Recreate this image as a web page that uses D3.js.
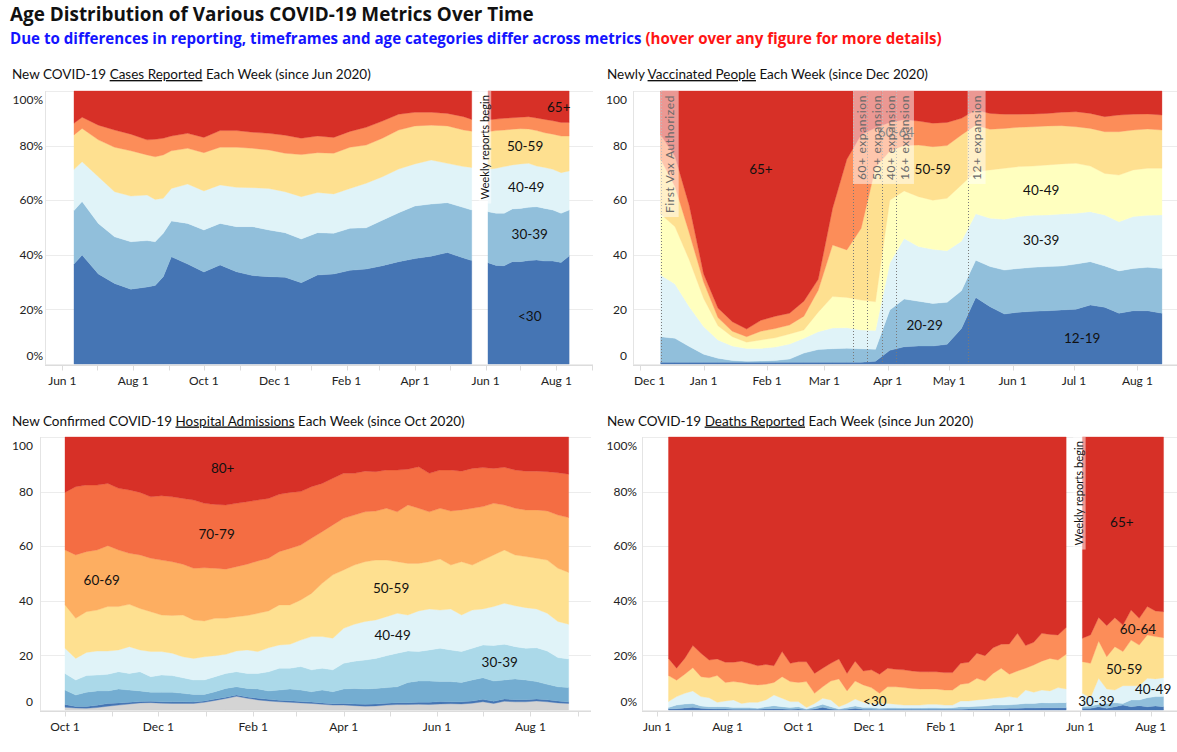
<!DOCTYPE html>
<html><head><meta charset="utf-8">
<script src="https://cdn.jsdelivr.net/npm/d3@7"></script>
<style>
html,body{margin:0;padding:0;background:#fff;}
svg{display:block;font-family:Lato,"Open Sans",sans-serif;}
</style></head><body>
<svg id="chart" width="1177" height="752"></svg>
<script>
// ---------------- DATA ----------------
const yTicks = [0, 20, 40, 60, 80, 100];

// Cases (share of weekly cases, %)
const casesKeys = ["<30","30-39","40-49","50-59","60-64","65+"];
const casesColors = ["#4575b4","#91bfdb","#e0f3f8","#fee090","#fc8d59","#d73027"];
const casesDatesA = ["2020-06-11","2020-06-18","2020-07-02","2020-07-16","2020-07-30","2020-08-13","2020-08-20","2020-08-27","2020-09-03","2020-09-17","2020-10-01","2020-10-15","2020-10-29","2020-11-12","2020-11-26","2020-12-10","2020-12-24","2021-01-07","2021-01-21","2021-02-04","2021-02-18","2021-03-04","2021-03-18","2021-04-01","2021-04-15","2021-04-29","2021-05-13","2021-05-20"];
const casesU30A = [36.6,39.9,33.0,29.5,27.4,28.2,28.8,32.0,39.3,36.6,33.7,36.3,33.8,32.4,32.0,31.8,29.8,32.6,33.0,34.3,34.8,36.0,37.5,38.6,39.5,40.8,38.8,37.9];
const cases30A  = [19.6,19.6,18.5,17.1,17.4,17.0,16.0,15.9,13.1,14.9,15.4,15.2,16.5,17.9,17.1,16.3,16.0,15.5,14.9,15.4,15.1,16.7,17.9,19.3,19.1,18.3,18.5,18.5];
const cases40A  = [15.1,14.6,17.1,16.5,16.7,16.7,15.5,12.8,11.9,14.4,14.3,14.1,14.4,14.3,15.2,15.0,15.5,14.7,14.4,14.6,16.3,15.9,16.0,15.4,16.1,14.4,15.0,15.6];
const cases50A  = [12.6,12.2,13.5,16.3,16.6,14.7,15.6,15.9,13.8,13.1,14.0,13.8,14.7,14.4,14.1,14.1,15.4,14.6,14.9,15.1,14.0,14.1,14.3,13.9,12.8,13.7,13.4,13.3];
const cases60A  = [4.3,4.1,5.4,6.3,6.1,5.5,6.4,6.1,5.4,5.5,5.6,6.1,6.1,5.9,6.1,6.6,6.0,6.1,5.8,5.8,6.5,6.3,5.8,5.0,4.7,4.6,4.9,4.3];
const cases65A  = [11.8,9.6,12.5,14.3,15.8,17.9,17.7,17.3,16.5,15.5,17.0,14.5,14.5,15.1,15.5,16.2,17.3,16.5,17.0,14.8,13.3,11.0,8.5,7.8,7.8,8.2,9.4,10.4];
const casesStartB = "2021-06-03";
const casesU30B = [37.1,36.1,36.0,37.5,37.5,37.9,38.1,37.7,37.7,37.2,39.6];
const cases30B  = [18.7,19.1,19.2,19.3,19.5,19.5,19.5,19.3,18.7,18.0,16.8];
const cases40B  = [15.5,16.5,17.1,16.1,16.3,16.1,14.9,15.0,14.9,14.9,14.3];
const cases50B  = [13.8,13.8,13.4,13.1,12.9,12.6,13.0,12.7,12.9,13.4,12.8];
const cases60B  = [4.3,4.2,4.3,4.2,4.2,4.5,4.6,4.9,4.9,5.0,5.0];
const cases65B  = [10.6,10.3,10.0,9.8,9.6,9.4,9.9,10.4,10.9,11.5,11.5];
const casesTicks = ["2020-06-01","2020-08-01","2020-10-01","2020-12-01","2021-02-01","2021-04-01","2021-06-01","2021-08-01"];
const casesLabelNames = ["65+","50-59","40-49","30-39","<30"];
const casesLabelDates = ["2021-08-03","2021-07-05","2021-07-06","2021-07-09","2021-07-09"];
const casesLabelValues = [94.2,79.6,64.9,47.5,17.3];

// Vaccinations (share of newly vaccinated people, %)
const vaxKeys = ["12-19","20-29","30-39","40-49","50-59","60-64","65+"];
const vaxColors = ["#4575b4","#91bfdb","#e0f3f8","#ffffbf","#fee090","#fc8d59","#d73027"];
const vaxStart = "2020-12-11";
const vax1219 = [0.6,0.6,0.6,0.6,0.6,0.6,0.6,0.6,0.6,0.6,0.6,0.6,0.6,0.6,0.6,1.0,5.0,6.3,6.6,6.6,7.2,13.0,24.4,21.0,18.3,19.0,19.3,19.5,19.8,20.1,21.6,20.8,18.6,19.5,19.5,18.6];
const vax2029 = [9.4,8.8,5.8,3.0,1.5,0.7,0.4,0.5,0.7,1.2,3.4,4.7,5.0,5.2,5.0,4.4,14.8,17.5,16.4,15.6,15.4,13.8,13.6,14.7,16.1,16.0,16.1,16.2,16.1,16.5,15.9,15.1,15.5,15.5,15.9,16.4];
const vax3039 = [22.6,19.9,14.6,10.1,6.7,5.3,4.7,4.6,4.9,5.5,5.4,6.5,7.6,7.5,6.9,6.9,17.2,22.2,20.0,19.8,18.9,18.2,17.0,17.7,18.6,19.0,19.1,18.9,19.0,18.6,18.3,18.7,18.0,19.0,19.1,19.6];
const vax4049 = [22.3,21.0,17.1,10.3,5.2,3.4,2.3,3.1,3.4,3.7,3.1,7.2,11.5,11.1,10.9,10.5,23.0,17.4,18.3,18.0,19.2,20.6,15.5,17.7,18.7,18.3,18.0,18.3,18.4,18.3,16.7,15.2,17.1,17.1,17.2,17.1];
const vax5059 = [20.1,14.7,9.9,6.0,3.0,2.0,2.0,3.2,3.4,3.3,5.0,8.0,18.9,17.4,26.3,49.2,18.0,16.6,18.9,19.6,19.3,18.3,17.0,14.9,14.6,14.4,14.4,14.3,14.0,13.4,13.8,15.3,15.9,14.6,14.4,14.0];
const vax6064 = [9.0,11.0,10.0,3.0,3.5,3.5,2.8,4.0,4.5,4.3,5.5,4.0,13.4,33.2,34.3,14.5,10.5,9.5,8.8,8.6,8.5,6.1,5.5,5.8,5.2,4.8,4.7,4.6,4.9,5.5,5.5,5.5,6.1,5.8,5.5,5.5];
const vax65   = [16.0,24.0,42.0,67.0,79.5,84.5,87.2,84.0,82.5,81.4,77.0,69.0,43.0,25.0,16.0,13.5,11.5,10.5,11.0,11.8,11.5,10.0,7.0,8.2,8.5,8.5,8.4,8.2,7.8,7.6,8.2,9.4,8.8,8.5,8.4,8.8];
const vaxTicks = ["2020-12-01","2021-01-01","2021-02-01","2021-03-01","2021-04-01","2021-05-01","2021-06-01","2021-07-01","2021-08-01"];
const vaxLabelNames = ["65+","60-64","50-59","40-49","30-39","20-29","12-19"];
const vaxLabelDates = ["2021-01-29","2021-04-05","2021-04-23","2021-06-15","2021-06-15","2021-04-19","2021-07-05"];
const vaxLabelValues = [71.3,84.7,71.3,63.5,45.2,14.3,9.4];
const vaxEventDates = ["2020-12-11","2021-03-15","2021-03-22","2021-03-29","2021-04-05","2021-05-10"];
const vaxEventLabels = ["First Vax Authorized","60+ expansion","50+ expansion","40+ expansion","16+ expansion","12+ expansion"];

// Hospital admissions (share, %)
const hospKeys = ["0-17","18-19","20-29","30-39","40-49","50-59","60-69","70-79","80+"];
const hospColors = ["#d4d4d4","#4575b4","#74add1","#abd9e9","#e0f3f8","#fee090","#fdae61","#f46d43","#d73027"];
const hospStart = "2020-10-01";
const hosp017 = [1.0,0.7,0.6,0.9,1.4,1.8,2.2,2.6,2.7,2.5,2.4,2.4,2.4,2.8,3.5,4.2,5.0,4.3,3.7,3.3,3.0,2.8,2.6,2.4,2.1,1.8,1.8,1.6,1.4,1.5,1.8,2.0,2.0,2.1,2.0,2.2,2.3,2.2,2.5,3.0,2.4,3.2,3.0,3.0,3.3,3.0,2.6,2.4];
const hosp1819 = [1.0,0.6,0.7,0.8,1.0,0.8,0.6,0.5,0.5,0.5,0.6,0.6,0.5,0.5,0.5,0.5,0.5,0.5,0.6,0.6,0.6,0.6,0.5,0.5,0.5,0.5,0.6,0.6,0.7,0.7,0.7,0.7,0.7,0.7,0.8,0.9,0.7,0.8,0.8,0.9,0.8,0.8,0.8,0.8,0.7,0.8,0.7,0.5];
const hosp2029 = [5.3,4.2,5.2,5.3,4.6,5.1,4.5,3.9,3.3,3.5,3.5,3.1,2.8,2.4,2.7,3.2,3.0,3.1,3.4,3.1,3.7,4.3,4.2,3.8,4.7,4.4,5.3,5.7,5.6,5.7,5.7,5.8,7.4,7.8,7.8,7.3,7.4,7.1,7.7,7.9,7.4,7.0,7.6,7.2,6.4,5.6,5.2,5.3];
const hosp3039 = [6.1,5.5,6.1,5.8,6.1,6.3,6.1,7.0,5.7,6.3,6.1,5.7,5.3,5.3,5.5,5.5,5.5,5.5,5.7,7.0,8.0,7.6,8.6,8.0,8.0,8.0,9.4,10.0,10.6,11.0,11.7,12.3,11.5,10.8,11.4,12.2,11.6,11.3,11.6,12.0,13.0,13.1,11.8,11.6,12.4,12.2,10.7,10.5];
const hosp4049 = [9.2,7.9,8.5,8.8,8.5,8.0,9.8,8.0,9.2,8.6,8.2,7.7,7.9,8.5,7.7,7.0,7.6,8.6,8.0,8.8,8.5,8.8,9.7,12.2,11.6,11.6,12.8,13.5,14.1,14.1,14.3,14.6,13.2,14.9,15.0,14.0,15.0,13.4,14.0,13.2,14.3,15.0,15.0,14.9,14.2,13.8,13.2,12.7];
const hosp5059 = [15.9,14.7,14.9,15.0,16.3,15.9,15.5,15.2,14.6,13.4,13.8,15.3,14.1,13.1,13.7,13.2,12.6,12.6,14.0,13.5,14.7,14.4,14.7,15.8,19.5,23.2,21.4,21.7,21.9,21.9,20.7,18.9,18.9,17.4,17.3,18.7,16.1,19.5,16.5,17.9,18.9,19.5,18.6,18.7,18.6,19.5,19.5,19.0];
const hosp6069 = [20.1,23.2,22.0,22.0,22.3,20.7,18.7,19.6,19.6,20.1,19.7,18.6,18.9,19.5,18.3,18.0,18.3,18.8,19.2,19.3,19.5,20.7,20.1,20.2,18.9,18.3,18.9,18.3,18.3,18.0,19.0,18.3,21.4,20.2,18.3,18.6,19.8,19.0,20.8,19.6,18.9,16.5,17.1,17.1,17.7,18.0,19.5,20.1];
const hosp7079 = [21.1,25.0,24.4,23.8,22.8,22.6,23.2,22.9,22.5,23.6,23.8,24.1,25.0,23.6,23.4,23.5,23.2,22.9,22.3,21.9,21.0,20.5,19.6,18.9,17.7,17.1,16.5,15.3,14.9,14.4,14.0,15.3,13.1,15.2,14.1,14.0,15.0,14.2,14.6,14.3,12.8,13.8,14.0,14.2,14.2,14.4,15.5,15.9];
const hosp80   = [20.3,18.2,17.6,17.6,17.0,18.8,19.4,20.3,21.9,21.5,21.9,22.5,23.1,24.3,24.7,24.9,24.3,23.7,23.1,22.5,21.0,20.3,20.0,18.2,17.0,15.1,13.3,13.3,12.5,12.7,12.1,12.1,11.8,10.9,13.3,12.1,12.1,12.5,11.5,11.2,11.5,11.1,12.1,12.5,12.5,12.7,13.1,13.6];
const hospTicks = ["2020-10-01","2020-12-01","2021-02-01","2021-04-01","2021-06-01","2021-08-01"];
const hospLabelNames = ["80+","70-79","60-69","50-59","40-49","30-39"];
const hospLabelDates = ["2021-01-12","2021-01-08","2020-10-25","2021-05-02","2021-05-03","2021-07-12"];
const hospLabelValues = [88.5,64.4,47.4,44.6,27.5,17.5];

// Deaths (share, %)
const deathsStartA = "2020-06-11";
const deathsU30A = [0.4,0.5,0.7,1.0,0.6,0.5,0.4,0.4,0.3,0.3, 0.3,0.3,0.4,0.5,0.4,0.3,0.4,0.2,0.4,1.0, 0.4,0.2,0.3,0.6,0.3,0.3,0.2,0.3,0.3,0.3, 0.3,0.3,0.3,0.3,0.3,0.3,0.3,0.4,0.4,0.5, 0.5,0.5,0.6,0.6,0.7,0.7,0.8,0.8,0.8,0.8];
const deaths30A  = [0.5,1.3,1.5,1.4,0.9,0.7,0.8,0.8,0.6,0.6, 0.6,0.3,0.8,1.1,0.8,0.6,0.8,0.2,0.8,1.1, 0.8,0.2,0.6,0.9,0.6,0.6,0.4,0.5,0.5,0.4, 0.4,0.4,0.5,0.5,0.4,0.5,0.9,0.8,1.0,1.0, 1.3,1.3,1.3,1.5,1.7,1.7,1.9,1.8,1.9,1.9];
const deaths40A  = [2.2,3.1,3.9,4.6,3.4,3.3,1.6,2.1,2.8,1.5, 1.9,2.2,2.5,3.9,3.1,2.2,1.9,0.5,1.2,2.2, 2.5,0.8,1.5,2.5,1.9,1.5,1.8,1.6,1.3,1.1, 1.1,1.1,1.3,1.3,1.1,1.0,2.1,2.1,2.3,2.4, 2.5,2.7,3.0,2.4,4.9,4.1,4.6,4.4,5.5,5.0];
const deaths50A  = [9.5,6.0,7.0,8.5,7.3,7.3,9.8,6.8,6.7,7.7, 6.6,6.4,5.7,4.6,7.9,7.3,7.0,9.5,3.7,4.2, 6.9,10.2,4.6,6.6,6.4,5.8,3.7,6.1,6.4,6.4, 6.1,5.9,5.6,5.6,5.5,5.5,6.1,6.5,7.9,6.7, 9.1,10.8,8.2,9.8,8.0,10.0,10.6,11.9,10.1,12.7];
const deaths60A  = [6.3,4.4,5.8,8.1,8.6,6.5,6.1,7.4,7.1,7.8, 7.7,7.0,7.3,6.1,9.2,6.7,7.6,7.3,7.3,6.8, 6.5,7.3,6.4,7.3,5.1,6.5,7.0,6.8,6.4,6.5, 6.4,6.3,6.3,6.3,6.4,6.4,7.7,7.7,9.2,9.3, 9.4,8.8,11.1,13.8,8.3,8.3,10.2,8.8,9.2,9.8];
const deaths65A  = [81.1,84.7,81.1,76.4,79.2,81.7,81.3,82.5,82.5,82.1, 82.9,83.8,83.3,83.8,78.6,82.9,82.3,82.3,86.6,84.7, 82.9,81.3,86.6,82.1,85.7,85.3,86.9,84.7,85.1,85.3, 85.7,86.0,86.0,86.0,86.3,86.3,82.9,82.5,79.2,80.1, 77.2,75.9,75.8,71.9,76.4,75.2,71.9,72.3,72.5,69.8];
const deathsStartB = "2021-06-03";
const deathsU30B = [0.6,0.6,1.2,0.6,1.2,1.8,1.2,1.6,1.2,1.5,1.2];
const deaths30B  = [0.6,0.9,0.9,1.8,1.5,0.6,2.5,2.1,3.3,3.4,3.7];
const deaths40B  = [4.9,3.0,9.5,5.3,4.6,6.5,5.2,5.2,7.1,6.5,6.9];
const deaths50B  = [11.6,12.6,13.7,11.8,15.9,12.5,16.7,14.9,15.9,15.5,14.7];
const deaths60B  = [8.6,10.4,8.6,11.4,10.6,9.7,11.0,9.8,10.4,9.4,9.5];
const deaths65B  = [73.7,72.5,66.1,69.1,66.2,68.9,63.4,66.4,62.1,63.7,64.0];
const deathsLabelNames = ["65+","60-64","50-59","40-49","30-39","<30"];
const deathsLabelDates = ["2021-07-07","2021-07-21","2021-07-09","2021-08-03","2021-06-15","2020-12-06"];
const deathsLabelValues = [68.7,29.6,14.9,7.6,3.3,3.3];

const weeklyReportDate = "2021-05-26";
const weeklyReportText = "Weekly reports begin";

// ---------------- DRAWING ----------------
const parse = d3.timeParse("%Y-%m-%d");
const weeks = (start, n) => d3.range(n).map(i => d3.timeDay.offset(parse(start), 7 * i));
const fmtDate = d3.timeFormat("%b %-d");
const svg = d3.select("#chart");

// main titles
svg.append("text").attr("x", 10).attr("y", 20.5).attr("font-size", 18.9).attr("font-weight", 700)
  .attr("font-family", "'Open Sans', sans-serif")
  .attr("fill", "#111").text("Age Distribution of Various COVID-19 Metrics Over Time");
const sub = svg.append("text").attr("x", 10).attr("y", 43.5).attr("font-size", 15.1).attr("font-weight", 700)
  .attr("font-family", "'Open Sans', sans-serif");
sub.append("tspan").attr("fill", "#1414ff").text("Due to differences in reporting, timeframes and age categories differ across metrics ");
sub.append("tspan").attr("fill", "#ff1414").text("(hover over any figure for more details)");

function drawPanel(p) {
  const g = svg.append("g");
  const x = d3.scaleTime().domain([parse(p.x0), parse(p.x1)]).range([p.r0, p.r1]);
  const y = d3.scaleLinear().domain([0, 100]).range([p.bottom, p.top]);

  // panel title
  const t = g.append("text").attr("x", p.titleX).attr("y", p.titleY).attr("font-size", 13.5).attr("fill", "#111");
  t.append("tspan").text(p.title[0]);
  t.append("tspan").attr("text-decoration", "underline").text(p.title[1]);
  t.append("tspan").text(p.title[2]);

  // gridlines
  g.append("g").selectAll("line").data(yTicks).join("line")
    .attr("x1", p.left).attr("x2", p.right)
    .attr("y1", d => Math.round(y(d)) + 0.5).attr("y2", d => Math.round(y(d)) + 0.5)
    .attr("stroke", "#ececec");
  g.append("line").attr("x1", p.left + 0.5).attr("x2", p.left + 0.5)
    .attr("y1", p.top).attr("y2", p.bottom + 1).attr("stroke", "#e4e4e4");

  // stacked areas
  p.segments.forEach(seg => {
    const rows = seg.dates.map((dt, i) => {
      const r = { date: dt };
      p.keys.forEach((k, j) => { r[k] = seg.series[j][i]; });
      return r;
    });
    const layers = d3.stack().keys(p.keys).offset(d3.stackOffsetExpand)(rows);
    const area = d3.area().x(d => x(d.data.date)).y0(d => y(d[0] * 100)).y1(d => y(d[1] * 100));
    g.append("g").selectAll("path").data(layers).join("path")
      .attr("d", area).attr("fill", (d, i) => p.colors[i])
      .attr("stroke", (d, i) => p.colors[i]).attr("stroke-width", 0.35);
  });

  // x axis
  const axY = p.bottom + 1.5;
  g.append("line").attr("x1", p.left).attr("x2", p.right).attr("y1", axY).attr("y2", axY).attr("stroke", "#dcdcdc");
  const months = d3.timeMonth.range(d3.timeMonth.ceil(x.invert(p.left)), x.invert(p.right));
  g.append("g").selectAll("line").data(months).join("line")
    .attr("x1", d => Math.round(x(d)) + 0.5).attr("x2", d => Math.round(x(d)) + 0.5)
    .attr("y1", axY).attr("y2", axY + 5).attr("stroke", "#dcdcdc");
  g.append("g").selectAll("text").data(p.ticks.map(parse)).join("text")
    .attr("y", p.xLabelY).attr("dy", "0.35em").attr("text-anchor", "middle")
    .attr("font-size", 12).attr("fill", "#222").text(d => fmtDate(d))
    .each(function(d) {
      const w = this.getComputedTextLength();
      const cx = Math.max(x(d), p.left + w / 2 + 1);
      d3.select(this).attr("x", cx);
    });

  // y axis labels
  const yfmt = p.pct ? (v => v + "%") : (v => String(v));
  g.append("g").selectAll("text").data(yTicks).join("text")
    .attr("x", p.yLabelX).attr("text-anchor", "end").attr("dy", "0.35em")
    .attr("y", d => Math.min(Math.max(y(d), p.top + 9), p.bottom - 8))
    .attr("font-size", 12).attr("fill", "#222").text(yfmt);

  // data labels
  g.append("g").selectAll("text").data(p.labelNames).join("text")
    .attr("x", (d, i) => x(parse(p.labelDates[i])))
    .attr("y", (d, i) => y(p.labelValues[i]))
    .attr("dy", "0.35em").attr("text-anchor", "middle")
    .attr("font-size", 13.5).attr("fill", "#111").text(d => d);

  // reference annotations
  if (p.events) {
    const ex = p.events.dates.map(d => x(parse(d)));
    if (p.events.dotted) {
      g.append("g").selectAll("line").data(ex).join("line")
        .attr("x1", d => Math.round(d) + 0.5).attr("x2", d => Math.round(d) + 0.5)
        .attr("y1", p.top).attr("y2", p.bottom)
        .attr("stroke", "#7a7a7a").attr("stroke-width", 1).attr("stroke-dasharray", "1,2");
    }
    const eg = g.append("g");
    p.events.labels.forEach((lab, i) => {
      const x0 = ex[i];
      const next = i + 1 < ex.length ? ex[i + 1] : Infinity;
      const w = Math.min(p.events.boxW, next - x0);
      const txt = eg.append("text").attr("font-size", p.events.fontSize)
        .attr("letter-spacing", p.events.spacing).attr("fill", p.events.color).text(lab);
      const len = txt.node().getComputedTextLength();
      const h = len + 8;
      eg.insert("rect", "text").attr("x", x0).attr("y", p.top).attr("width", w).attr("height", h)
        .attr("fill", "#fff").attr("fill-opacity", 0.5);
      const cx = x0 + p.events.boxW / 2;
      const by = p.top + h - 4;
      txt.attr("transform", `translate(${cx},${by}) rotate(-90)`).attr("dy", "0.35em");
    });
  }
}

const wrTop = { dates: [weeklyReportDate], labels: [weeklyReportText], boxW: 12.5, fontSize: 11.2, spacing: 0, color: "#111", dotted: false };

drawPanel({
  title: ["New COVID-19 ", "Cases Reported", " Each Week (since Jun 2020)"], titleX: 12, titleY: 79,
  left: 45, right: 593, top: 91, bottom: 364, yLabelX: 43, xLabelY: 381, pct: true,
  x0: "2020-06-01", x1: "2021-08-01", r0: 62.4, r1: 556.4,
  keys: casesKeys, colors: casesColors, ticks: casesTicks,
  segments: [
    { dates: casesDatesA.map(parse), series: [casesU30A, cases30A, cases40A, cases50A, cases60A, cases65A] },
    { dates: weeks(casesStartB, casesU30B.length), series: [casesU30B, cases30B, cases40B, cases50B, cases60B, cases65B] }
  ],
  labelNames: casesLabelNames, labelDates: casesLabelDates, labelValues: casesLabelValues,
  events: wrTop
});

drawPanel({
  title: ["Newly ", "Vaccinated People", " Each Week (since Dec 2020)"], titleX: 607, titleY: 79,
  left: 633, right: 1177, top: 91, bottom: 364, yLabelX: 627, xLabelY: 381, pct: false,
  x0: "2020-12-01", x1: "2021-08-01", r0: 640.2, r1: 1137.4,
  keys: vaxKeys, colors: vaxColors, ticks: vaxTicks,
  segments: [
    { dates: weeks(vaxStart, vax1219.length), series: [vax1219, vax2029, vax3039, vax4049, vax5059, vax6064, vax65] }
  ],
  labelNames: vaxLabelNames, labelDates: vaxLabelDates, labelValues: vaxLabelValues,
  events: { dates: vaxEventDates, labels: vaxEventLabels, boxW: 18, fontSize: 12, spacing: 0.6, color: "#6a6a6a", dotted: true }
});

drawPanel({
  title: ["New Confirmed COVID-19 ", "Hospital Admissions", " Each Week (since Oct 2020)"], titleX: 12, titleY: 425.5,
  left: 40, right: 591, top: 437, bottom: 710, yLabelX: 33, xLabelY: 726.5, pct: false,
  x0: "2020-10-01", x1: "2021-08-01", r0: 65, r1: 530.4,
  keys: hospKeys, colors: hospColors, ticks: hospTicks,
  segments: [
    { dates: weeks(hospStart, hosp017.length), series: [hosp017, hosp1819, hosp2029, hosp3039, hosp4049, hosp5059, hosp6069, hosp7079, hosp80] }
  ],
  labelNames: hospLabelNames, labelDates: hospLabelDates, labelValues: hospLabelValues
});

drawPanel({
  title: ["New COVID-19 ", "Deaths Reported", " Each Week (since Jun 2020)"], titleX: 607, titleY: 425.5,
  left: 642, right: 1177, top: 437, bottom: 710, yLabelX: 637, xLabelY: 726.5, pct: true,
  x0: "2020-06-01", x1: "2021-08-01", r0: 656.9, r1: 1150.8,
  keys: casesKeys, colors: casesColors, ticks: casesTicks,
  segments: [
    { dates: weeks(deathsStartA, deathsU30A.length), series: [deathsU30A, deaths30A, deaths40A, deaths50A, deaths60A, deaths65A] },
    { dates: weeks(deathsStartB, deathsU30B.length), series: [deathsU30B, deaths30B, deaths40B, deaths50B, deaths60B, deaths65B] }
  ],
  labelNames: deathsLabelNames, labelDates: deathsLabelDates, labelValues: deathsLabelValues,
  events: wrTop
});
</script>
</body></html>
